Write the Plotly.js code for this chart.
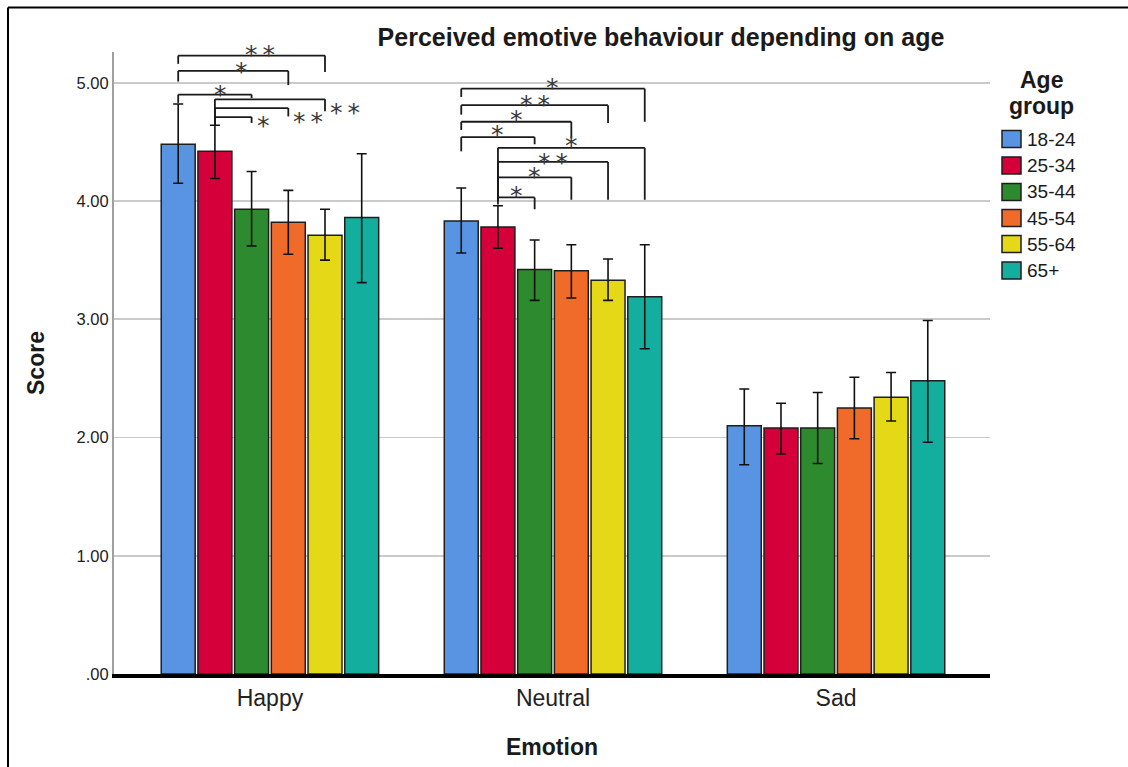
<!DOCTYPE html>
<html>
<head>
<meta charset="utf-8">
<script src="https://cdn.plot.ly/plotly-3.0.1.min.js"></script>
<style>
  html, body { margin: 0; padding: 0; background: #fff; }
  #chart { width: 1128px; height: 767px; }
</style>
</head>
<body>
<div id="chart"></div>
<script>
// Emotion categories on the x axis
const emotions = ['Happy', 'Neutral', 'Sad'];
// Age groups, one bar series each
const ageGroups = ['18-24', '25-34', '35-44', '45-54', '55-64', '65+'];

// Mean score per emotion, with the upper / lower bounds of the error bars
const mean_18_24 = [4.48, 3.83, 2.10];
const upper_18_24 = [4.82, 4.11, 2.41];
const lower_18_24 = [4.15, 3.56, 1.77];

const mean_25_34 = [4.42, 3.78, 2.08];
const upper_25_34 = [4.64, 3.96, 2.29];
const lower_25_34 = [4.19, 3.60, 1.86];

const mean_35_44 = [3.93, 3.42, 2.08];
const upper_35_44 = [4.25, 3.67, 2.38];
const lower_35_44 = [3.62, 3.16, 1.78];

const mean_45_54 = [3.82, 3.41, 2.25];
const upper_45_54 = [4.09, 3.63, 2.51];
const lower_45_54 = [3.55, 3.18, 1.99];

const mean_55_64 = [3.71, 3.33, 2.34];
const upper_55_64 = [3.93, 3.51, 2.55];
const lower_55_64 = [3.50, 3.16, 2.14];

const mean_65_plus = [3.86, 3.19, 2.48];
const upper_65_plus = [4.40, 3.63, 2.99];
const lower_65_plus = [3.31, 2.75, 1.96];

// Y axis tick labels
const yTickValues = [0, 1, 2, 3, 4, 5];
const yTickLabels = ['.00', '1.00', '2.00', '3.00', '4.00', '5.00'];

// Pairwise significance markers: emotion index, the two age-group indices, label
const sigPairs = [
  { emotion: 0, a: 0, b: 4, label: '**' },
  { emotion: 0, a: 0, b: 3, label: '*' },
  { emotion: 0, a: 0, b: 2, label: '*' },
  { emotion: 0, a: 1, b: 4, label: '**' },
  { emotion: 0, a: 1, b: 3, label: '**' },
  { emotion: 0, a: 1, b: 2, label: '*' },
  { emotion: 1, a: 0, b: 5, label: '*' },
  { emotion: 1, a: 0, b: 4, label: '**' },
  { emotion: 1, a: 0, b: 3, label: '*' },
  { emotion: 1, a: 0, b: 2, label: '*' },
  { emotion: 1, a: 1, b: 5, label: '*' },
  { emotion: 1, a: 1, b: 4, label: '**' },
  { emotion: 1, a: 1, b: 3, label: '*' },
  { emotion: 1, a: 1, b: 2, label: '*' }
];

// Bracket geometry (same order as sigPairs): bar height, left / right leg ends,
// label height and whether the label sits above the bracket or to its right
const bracketGeom = [
  { top: 5.23, left: 5.16, right: 5.09, textY: 5.29, place: 'above', dx: 8 },
  { top: 5.10, left: 5.01, right: 4.98, textY: 5.15, place: 'above', dx: 8 },
  { top: 4.90, left: 4.83, right: 4.87, textY: 4.95, place: 'above', dx: 6 },
  { top: 4.86, left: 4.64, right: 4.76, textY: 4.80, place: 'right', dx: 3 },
  { top: 4.786, left: 4.64, right: 4.715, textY: 4.72, place: 'right', dx: 3 },
  { top: 4.71, left: 4.64, right: 4.66, textY: 4.687, place: 'right', dx: 3 },
  { top: 4.95, left: 4.88, right: 4.67, textY: 5.01, place: 'above', dx: 0 },
  { top: 4.81, left: 4.73, right: 4.66, textY: 4.865, place: 'above', dx: 0 },
  { top: 4.67, left: 4.60, right: 4.53, textY: 4.74, place: 'above', dx: 0 },
  { top: 4.54, left: 4.42, right: 4.48, textY: 4.61, place: 'above', dx: 0 },
  { top: 4.45, left: 4.00, right: 4.01, textY: 4.52, place: 'above', dx: 0 },
  { top: 4.33, left: 4.00, right: 4.01, textY: 4.38, place: 'above', dx: 0 },
  { top: 4.20, left: 4.00, right: 4.01, textY: 4.26, place: 'above', dx: 0 },
  { top: 4.03, left: 3.97, right: 3.93, textY: 4.10, place: 'above', dx: 0 }
];

const seriesMeans = [mean_18_24, mean_25_34, mean_35_44, mean_45_54, mean_55_64, mean_65_plus];
const seriesUpper = [upper_18_24, upper_25_34, upper_35_44, upper_45_54, upper_55_64, upper_65_plus];
const seriesLower = [lower_18_24, lower_25_34, lower_35_44, lower_45_54, lower_55_64, lower_65_plus];

const colors = ['#5894E2', '#D5003A', '#2E8A2E', '#F06A2A', '#E5D816', '#13AE9E'];
const outline = '#1e1e1e';
const textColor = '#1a1a1a';
const fontFamily = 'Liberation Sans, Arial, sans-serif';

const bargap = 0.222;
const bargroupgap = 0.075;
const yMax = 5.26;

// Frame of the plotting area in pixels
const W = 1128, H = 767;
const M = { l: 114, r: 138, t: 52, b: 93 };
const plotW = W - M.l - M.r, plotH = H - M.t - M.b;
const px = x => (x - M.l) / plotW;
const py = y => (H - M.b - y) / plotH;

const traces = ageGroups.map((g, i) => ({
  type: 'bar',
  name: g,
  x: emotions,
  y: seriesMeans[i],
  marker: { color: colors[i], line: { color: outline, width: 1.5 } },
  error_y: {
    type: 'data',
    symmetric: false,
    array: seriesUpper[i].map((u, k) => u - seriesMeans[i][k]),
    arrayminus: seriesLower[i].map((l, k) => seriesMeans[i][k] - l),
    color: '#111',
    thickness: 1.6,
    width: 5
  },
  showlegend: false,
  hoverinfo: 'x+y+name'
}));

// x position of a bar centre, following the grouped-bar layout
const slot = (1 - bargap) / ageGroups.length;
const barX = (c, i) => c + (i - (ageGroups.length - 1) / 2) * slot;

const shapes = [];
const annotations = [];

sigPairs.forEach((p, k) => {
  const g = bracketGeom[k];
  const x1 = barX(p.emotion, p.a), x2 = barX(p.emotion, p.b);
  const line = { color: '#1a1a1a', width: 1.8 };
  shapes.push({ type: 'line', xref: 'x', yref: 'y', x0: x1, x1: x1, y0: g.left, y1: g.top, line });
  shapes.push({ type: 'line', xref: 'x', yref: 'y', x0: x1, x1: x2, y0: g.top, y1: g.top, line });
  shapes.push({ type: 'line', xref: 'x', yref: 'y', x0: x2, x1: x2, y0: g.top, y1: g.right, line });
  const text = p.label.split('').join('\u2009');
  annotations.push({
    xref: 'x', yref: 'paper',
    x: g.place === 'above' ? (x1 + x2) / 2 : x2,
    y: g.textY / yMax,
    xanchor: g.place === 'above' ? 'center' : 'left',
    yanchor: 'middle',
    xshift: g.dx,
    yshift: -6,
    text: text,
    showarrow: false,
    font: { family: 'DejaVu Sans, sans-serif', size: 25, color: '#3a3a3a' }
  });
});

// Outer frame
shapes.push({ type: 'line', xref: 'paper', yref: 'paper', x0: px(8), x1: px(8), y0: py(7.5), y1: py(800), line: { color: '#000', width: 2 } });
shapes.push({ type: 'line', xref: 'paper', yref: 'paper', x0: px(8), x1: px(1200), y0: py(7.5), y1: py(7.5), line: { color: '#000', width: 2 } });

// Legend: title, swatches and labels
[['Age', 80], ['group', 106]].forEach(([t, y]) => {
  annotations.push({
    xref: 'paper', yref: 'paper', x: px(1041), y: py(y), xanchor: 'center', yanchor: 'middle',
    text: '<b>' + t + '</b>', showarrow: false,
    font: { family: fontFamily, size: 23, color: textColor }
  });
});
const legendRowY = [139, 165.5, 192, 218, 244, 270.5];
ageGroups.forEach((g, i) => {
  const cy = legendRowY[i];
  shapes.push({
    type: 'rect', xref: 'paper', yref: 'paper',
    x0: px(1002), x1: px(1021), y0: py(cy + 8.5), y1: py(cy - 8.5),
    fillcolor: colors[i], line: { color: outline, width: 1.5 }
  });
  annotations.push({
    xref: 'paper', yref: 'paper', x: px(1025), y: py(cy), xanchor: 'left', yanchor: 'middle',
    text: g, showarrow: false, font: { family: fontFamily, size: 19, color: textColor }
  });
});

const layout = {
  width: W, height: H,
  margin: M,
  paper_bgcolor: '#fff', plot_bgcolor: '#fff',
  barmode: 'group',
  bargap: bargap,
  bargroupgap: bargroupgap,
  showlegend: false,
  title: {
    text: '<b>Perceived emotive behaviour depending on age</b>',
    font: { family: fontFamily, size: 25, color: textColor },
    xref: 'container', yref: 'container',
    x: 661 / W, xanchor: 'center',
    y: 1 - 37 / H, yanchor: 'middle'
  },
  xaxis: {
    type: 'category',
    range: [-0.551, 2.544],
    showgrid: false,
    zeroline: false,
    showline: true, linecolor: '#000', linewidth: 4,
    ticks: '',
    tickfont: { family: fontFamily, size: 23, color: '#222' },
    title: { text: '<b>Emotion</b>', font: { family: fontFamily, size: 23, color: textColor }, standoff: 30 }
  },
  yaxis: {
    range: [0, yMax],
    tickvals: yTickValues,
    ticktext: yTickLabels,
    showgrid: true, gridcolor: '#cacaca', gridwidth: 1.8,
    zeroline: false,
    showline: true, linecolor: '#a0a0a0', linewidth: 2,
    ticks: '',
    tickfont: { family: fontFamily, size: 16.5, color: '#222' },
    title: { text: '<b>Score</b>', font: { family: fontFamily, size: 23, color: textColor }, standoff: 26 }
  },
  shapes: shapes,
  annotations: annotations
};

Plotly.newPlot('chart', traces, layout, { displayModeBar: false, staticPlot: true });
</script>
</body>
</html>
